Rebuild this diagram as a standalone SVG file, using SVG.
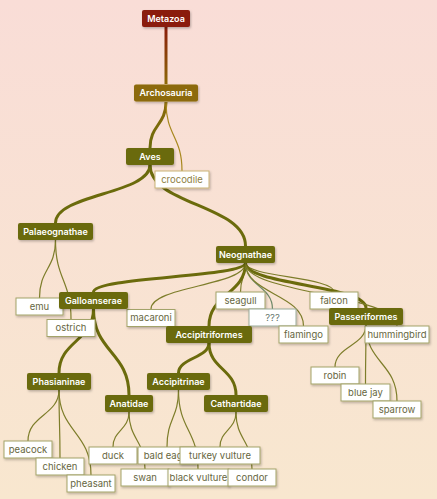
<svg xmlns="http://www.w3.org/2000/svg" width="437" height="499" viewBox="0 0 437 499">
<defs>
<linearGradient id="bg" x1="0" y1="0" x2="0" y2="1">
<stop offset="0" stop-color="#f9ddd7"/>
<stop offset="1" stop-color="#f8e7cf"/>
</linearGradient>
<linearGradient id="g1" gradientUnits="userSpaceOnUse" x1="0" y1="27" x2="0" y2="84">
<stop offset="0" stop-color="#8a1c0b"/>
<stop offset="1" stop-color="#8c6a08"/>
</linearGradient>
<linearGradient id="g2" gradientUnits="userSpaceOnUse" x1="0" y1="102" x2="0" y2="148">
<stop offset="0" stop-color="#8c6a08"/>
<stop offset="1" stop-color="#6b6b0c"/>
</linearGradient>
<filter id="sh" x="-20%" y="-30%" width="140%" height="170%">
<feDropShadow dx="1" dy="1.5" stdDeviation="1" flood-color="#000" flood-opacity="0.25"/>
</filter>
</defs>
<style>
.dk rect{fill:#6b6b0c;filter:url(#sh)}
.dk text{fill:#fff;font-family:Inter,"Open Sans",sans-serif;font-size:9px;font-weight:600;text-anchor:middle}
.lf rect{fill:#fff;stroke:#a3a369;stroke-width:1;filter:url(#sh)}
.lf text{fill:#66663e;font-family:Inter,"Open Sans",sans-serif;font-size:9.5px;text-anchor:middle}
.e{fill:none;stroke:#6b6b0c}
.t{stroke-width:3}
.n{stroke-width:1.2;stroke:#7d7d2a}
</style>
<rect width="437" height="499" fill="url(#bg)"/>
<g id="edges">
<path d="M166 27 V84" stroke="url(#g1)" stroke-width="3" fill="none"/>
<path d="M166 102 C166 125,150 125,150 148" stroke="url(#g2)" stroke-width="3" fill="none"/>
<path d="M166 102 C166 136,182 136,182 171" stroke="#a8881e" stroke-width="1.2" fill="none"/>
<path class="e t" d="M150 165 C150 194,55.5 194,55.5 223"/>
<path class="e t" d="M150 165 C150 205,245.5 205,245.5 246"/>
<path class="e n" d="M55.5 240 C55.5 269,39.5 269,39.5 298"/>
<path class="e n" d="M55.5 240 C55.5 280,71 280,71 319"/>
<path class="e t" d="M245.5 263 C245.5 277,93.5 277,93.5 292"/>
<path class="e n" d="M245.5 263 C245.5 286,151 286,151 309"/>
<path class="e n" d="M245.5 263 C245.5 277,240.5 277,240.5 292"/>
<path class="e t" d="M245.5 263 C245.5 294,209 294,209 326"/>
<path class="e n" d="M245.5 263 C245.5 286,272.5 286,272.5 309" style="stroke:#6f8a6a"/>
<path class="e n" d="M245.5 263 C245.5 294,303.5 294,303.5 326"/>
<path class="e n" d="M245.5 263 C245.5 277,334 277,334 292"/>
<path class="e t" d="M245.5 263 C245.5 285,366 285,366 308"/>
<path class="e n" d="M245.5 263 C245.5 294,397 294,397 326"/>
<path class="e t" d="M93.5 309 C93.5 341,59 341,59 373"/>
<path class="e t" d="M93.5 309 C93.5 352,129 352,129 395"/>
<path class="e t" d="M209 343 C209 358,178.5 358,178.5 373"/>
<path class="e t" d="M209 343 C209 369,236 369,236 395"/>
<path class="e n" d="M366 325 C366 346,335 346,335 367"/>
<path class="e n" d="M366 325 C366 354,365.5 354,365.5 384"/>
<path class="e n" d="M366 325 C366 363,397 363,397 401"/>
<path class="e n" d="M59 390 C59 415,28 415,28 441"/>
<path class="e n" d="M59 390 C59 424,60 424,60 458"/>
<path class="e n" d="M59 390 C59 432,91 432,91 475"/>
<path class="e n" d="M129 412 C129 430,113 430,113 447"/>
<path class="e n" d="M129 412 C129 440,145 440,145 469"/>
<path class="e n" d="M178.5 390 C178.5 418,167 418,167 447"/>
<path class="e n" d="M178.5 390 C178.5 430,198 430,198 469"/>
<path class="e n" d="M236 412 C236 430,220 430,220 447"/>
<path class="e n" d="M236 412 C236 440,252 440,252 469"/>
</g>
<g id="crocodile" class="lf"><rect x="155" y="171" width="54" height="17" style="stroke:#c9b377"/><text x="182" y="182.5" style="fill:#8e7f45">crocodile</text></g>
<g id="emu" class="lf"><rect x="16" y="298" width="47" height="17"/><text x="39.5" y="309.5">emu</text></g>
<g id="ostrich" class="lf"><rect x="47" y="319.5" width="48" height="17"/><text x="71" y="331">ostrich</text></g>
<g id="macaroni" class="lf"><rect x="127" y="309.5" width="48" height="17"/><text x="151" y="321">macaroni</text></g>
<g id="seagull" class="lf"><rect x="216" y="292" width="49" height="17"/><text x="240.5" y="303.5">seagull</text></g>
<g id="unknown" class="lf"><rect x="249" y="309" width="47" height="17" style="stroke:#9aab9a"/><text x="272.5" y="320.5" style="fill:#6a7a70">???</text></g>
<g id="flamingo" class="lf"><rect x="279" y="326" width="49" height="17"/><text x="303.5" y="337.5">flamingo</text></g>
<g id="falcon" class="lf"><rect x="310" y="292" width="48" height="17"/><text x="334" y="303.5">falcon</text></g>
<g id="hummingbird" class="lf"><rect x="365" y="326" width="64" height="17"/><text x="397" y="337.5">hummingbird</text></g>
<g id="robin" class="lf"><rect x="311" y="367" width="48" height="17"/><text x="335" y="378.5">robin</text></g>
<g id="bluejay" class="lf"><rect x="341" y="384" width="49" height="17"/><text x="365.5" y="395.5">blue jay</text></g>
<g id="sparrow" class="lf"><rect x="373" y="401" width="48" height="17"/><text x="397" y="412.5">sparrow</text></g>
<g id="peacock" class="lf"><rect x="4" y="441" width="48" height="17"/><text x="28" y="452.5">peacock</text></g>
<g id="chicken" class="lf"><rect x="36" y="458" width="48" height="17"/><text x="60" y="469.5">chicken</text></g>
<g id="pheasant" class="lf"><rect x="67" y="475" width="48" height="17"/><text x="91" y="486.5">pheasant</text></g>
<g id="duck" class="lf"><rect x="89" y="447" width="48" height="17"/><text x="113" y="458.5">duck</text></g>
<g id="swan" class="lf"><rect x="121" y="469" width="48" height="17"/><text x="145" y="480.5">swan</text></g>
<g id="baldeagle" class="lf"><rect x="138" y="447" width="58" height="17"/><text x="167" y="458.5">bald eagle</text></g>
<g id="turkeyvulture" class="lf"><rect x="180" y="447" width="80" height="17"/><text x="220" y="458.5">turkey vulture</text></g>
<g id="blackvulture" class="lf"><rect x="168" y="469" width="61" height="17"/><text x="198.5" y="480.5">black vulture</text></g>
<g id="condor" class="lf"><rect x="228" y="469" width="48" height="17"/><text x="252" y="480.5">condor</text></g>
<g id="Metazoa" class="dk"><rect x="142" y="10" width="48" height="17" rx="2" style="fill:#8a1c0b"/><text x="166" y="21.5">Metazoa</text></g>
<g id="Archosauria" class="dk"><rect x="134" y="84.5" width="64" height="17" rx="2" style="fill:#8c6a08"/><text x="166" y="96">Archosauria</text></g>
<g id="Aves" class="dk"><rect x="126" y="148" width="48" height="17" rx="2"/><text x="150" y="159.5">Aves</text></g>
<g id="Palaeognathae" class="dk"><rect x="18" y="223" width="75" height="17" rx="2"/><text x="55.5" y="234.5">Palaeognathae</text></g>
<g id="Neognathae" class="dk"><rect x="216" y="246" width="59" height="17" rx="2"/><text x="245.5" y="257.5">Neognathae</text></g>
<g id="Galloanserae" class="dk"><rect x="59" y="292" width="69" height="17" rx="2"/><text x="93.5" y="303.5">Galloanserae</text></g>
<g id="Accipitriformes" class="dk"><rect x="166" y="326" width="86" height="17" rx="2"/><text x="209" y="337.5">Accipitriformes</text></g>
<g id="Passeriformes" class="dk"><rect x="329" y="308" width="74" height="17" rx="2"/><text x="366" y="319.5">Passeriformes</text></g>
<g id="Phasianinae" class="dk"><rect x="27" y="373" width="64" height="17" rx="2"/><text x="59" y="384.5">Phasianinae</text></g>
<g id="Anatidae" class="dk"><rect x="105" y="395" width="48" height="17" rx="2"/><text x="129" y="406.5">Anatidae</text></g>
<g id="Accipitrinae" class="dk"><rect x="147" y="373" width="63" height="17" rx="2"/><text x="178.5" y="384.5">Accipitrinae</text></g>
<g id="Cathartidae" class="dk"><rect x="204" y="395" width="64" height="17" rx="2"/><text x="236" y="406.5">Cathartidae</text></g>
</svg>
